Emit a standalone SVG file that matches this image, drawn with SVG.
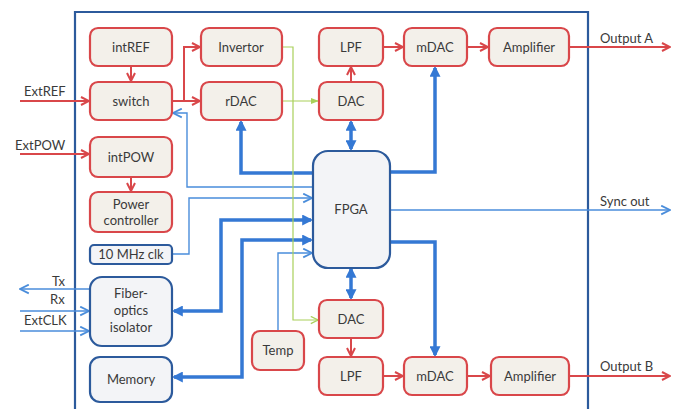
<svg xmlns="http://www.w3.org/2000/svg" width="677" height="409" viewBox="0 0 677 409">
<style>
text{font-family:Lato,"Liberation Sans",sans-serif;font-size:13px;fill:#3a3a3a;}
.c{text-anchor:middle;}
.rn{fill:#f3f0ea;stroke:#d9474a;stroke-width:2.2;}
.bn{fill:#f3f4f7;stroke:#2c5a9c;stroke-width:2.2;}
.red{fill:none;stroke:#d9474a;stroke-width:2;}
.thick{fill:none;stroke:#3478d4;stroke-width:3.5;}
.thin{fill:none;stroke:#4a8ddb;stroke-width:1.4;}
.grn{fill:none;stroke:#a9d05a;stroke-width:1.2;}
</style>
<defs>
<marker id="ar" viewBox="0 0 10 10" refX="9" refY="5" markerWidth="10" markerHeight="10" markerUnits="userSpaceOnUse" orient="auto-start-reverse"><path d="M1,1 L9,5 L1,9" fill="none" stroke="#d9474a" stroke-width="2"/></marker>
<marker id="ab" viewBox="0 0 10 10" refX="9" refY="5" markerWidth="11" markerHeight="11" markerUnits="userSpaceOnUse" orient="auto-start-reverse"><path d="M1,1 L9,5 L1,9" fill="none" stroke="#4a8ddb" stroke-width="1.6"/></marker>
<marker id="at" viewBox="0 0 10 10" refX="8" refY="5" markerWidth="11" markerHeight="11" markerUnits="userSpaceOnUse" orient="auto-start-reverse"><path d="M0,0 L10,5 L0,10 z" fill="#3478d4"/></marker>
<marker id="ag" viewBox="0 0 10 10" refX="9" refY="5" markerWidth="8" markerHeight="8" markerUnits="userSpaceOnUse" orient="auto"><path d="M0,1 L10,5 L0,9 z" fill="#a9d05a"/></marker>
<marker id="ago" viewBox="0 0 10 10" refX="9" refY="5" markerWidth="9" markerHeight="9" markerUnits="userSpaceOnUse" orient="auto"><path d="M1,1 L9,5 L1,9" fill="none" stroke="#a9d05a" stroke-width="1.4"/></marker>
</defs>
<rect width="677" height="409" fill="#ffffff"/>
<path d="M75,420 L75,12 L588,12 L588,420" fill="none" stroke="#2c5a9c" stroke-width="2.2"/>

<g id="connectors">
<!-- red -->
<path class="red" d="M131,66 L131,81" marker-end="url(#ar)"/>
<path class="red" d="M20,101 L89,101" marker-end="url(#ar)"/>
<path class="red" d="M172,101 L200,101" marker-end="url(#ar)"/>
<path class="red" d="M184,101 L184,47 L200,47" marker-end="url(#ar)"/>
<path class="red" d="M20,154 L89,154" marker-end="url(#ar)"/>
<path class="red" d="M131,177 L131,191" marker-end="url(#ar)"/>
<path class="red" d="M351,82 L351,67" marker-end="url(#ar)"/>
<path class="red" d="M383,47 L403,47" marker-end="url(#ar)"/>
<path class="red" d="M467,47 L488,47" marker-end="url(#ar)"/>
<path class="red" d="M569,47 L670,47" marker-end="url(#ar)"/>
<path class="red" d="M351,338 L351,356" marker-end="url(#ar)"/>
<path class="red" d="M383,376 L403,376" marker-end="url(#ar)"/>
<path class="red" d="M467,376 L490,376" marker-end="url(#ar)"/>
<path class="red" d="M569,376 L670,376" marker-end="url(#ar)"/>
<!-- thick blue -->
<path class="thick" d="M351,122 L351,149" marker-start="url(#at)" marker-end="url(#at)"/>
<path class="thick" d="M313,173 L241,173 L241,122" marker-end="url(#at)"/>
<path class="thick" d="M390,172 L435,172 L435,68" marker-end="url(#at)"/>
<path class="thick" d="M390,242 L435,242 L435,355" marker-end="url(#at)"/>
<path class="thick" d="M351,269 L351,298" marker-start="url(#at)" marker-end="url(#at)"/>
<path class="thick" d="M311,220 L221,220 L221,311 L174,311" marker-start="url(#at)" marker-end="url(#at)"/>
<path class="thick" d="M311,240 L242,240 L242,377 L174,377" marker-start="url(#at)" marker-end="url(#at)"/>
<!-- thin blue -->
<path class="thin" d="M313,187 L187,187 L187,113 L173,113" marker-end="url(#ab)"/>
<path class="thin" d="M172,254 L189,254 L189,198 L312,198" marker-end="url(#ab)"/>
<path class="thin" d="M278,331 L278,253 L312,253" marker-end="url(#ab)"/>
<path class="thin" d="M390,210 L670,210" marker-end="url(#ab)"/>
<path class="thin" d="M90,289 L20,289" marker-end="url(#ab)"/>
<path class="thin" d="M20,311 L89,311" marker-end="url(#ab)"/>
<path class="thin" d="M20,331 L89,331" marker-end="url(#ab)"/>
<!-- green -->
<path class="grn" d="M282,47 L293,47 L293,320 L318,320" marker-end="url(#ago)"/>
<path class="grn" d="M282,101 L318,101" marker-end="url(#ag)"/>
</g>

<g id="labels">
<text x="24" y="96">ExtREF</text>
<text x="15" y="150">ExtPOW</text>
<text x="600" y="43">Output A</text>
<text x="600" y="206">Sync out</text>
<text x="600" y="371">Output B</text>
<text x="52" y="286">Tx</text>
<text x="50" y="304">Rx</text>
<text x="24" y="325">ExtCLK</text>
</g>

<g id="intREF"><rect class="rn" x="90" y="28" width="82" height="38" rx="8"/><text class="c" x="131" y="52">intREF</text></g>
<g id="switch"><rect class="rn" x="90" y="82" width="82" height="38" rx="8"/><text class="c" x="131" y="106">switch</text></g>
<g id="Invertor"><rect class="rn" x="201" y="28" width="81" height="38" rx="8"/><text class="c" x="241" y="52">Invertor</text></g>
<g id="rDAC"><rect class="rn" x="201" y="82" width="81" height="38" rx="8"/><text class="c" x="241" y="106">rDAC</text></g>
<g id="LPF_A"><rect class="rn" x="319" y="28" width="64" height="38" rx="8"/><text class="c" x="351" y="52">LPF</text></g>
<g id="mDAC_A"><rect class="rn" x="404" y="28" width="63" height="38" rx="8"/><text class="c" x="435" y="52">mDAC</text></g>
<g id="Amplifier_A"><rect class="rn" x="489" y="28" width="80" height="38" rx="8"/><text class="c" x="529" y="52">Amplifier</text></g>
<g id="DAC_A"><rect class="rn" x="319" y="82" width="64" height="38" rx="8"/><text class="c" x="351" y="106">DAC</text></g>
<g id="intPOW"><rect class="rn" x="90" y="137" width="82" height="40" rx="8"/><text class="c" x="131" y="162">intPOW</text></g>
<g id="PowerController"><rect class="rn" x="90" y="192" width="82" height="40" rx="8"/><text class="c" x="131" y="209">Power</text><text class="c" x="131" y="225">controller</text></g>
<g id="clk10MHz"><rect class="bn" x="90" y="245" width="82" height="19" rx="4"/><text class="c" x="131" y="259">10 MHz clk</text></g>
<g id="FPGA"><rect class="bn" x="313" y="151" width="77" height="117" rx="15"/><text class="c" x="351" y="214">FPGA</text></g>
<g id="FiberIsolator"><rect class="bn" x="90" y="277" width="82" height="69" rx="12"/><text class="c" x="131" y="298">Fiber-</text><text class="c" x="131" y="315">optics</text><text class="c" x="131" y="332">isolator</text></g>
<g id="Memory"><rect class="bn" x="90" y="357" width="82" height="45" rx="10"/><text class="c" x="131" y="384">Memory</text></g>
<g id="Temp"><rect class="rn" x="252" y="331" width="52" height="39" rx="8"/><text class="c" x="278" y="355">Temp</text></g>
<g id="DAC_B"><rect class="rn" x="319" y="300" width="64" height="38" rx="8"/><text class="c" x="351" y="324">DAC</text></g>
<g id="LPF_B"><rect class="rn" x="319" y="357" width="64" height="38" rx="8"/><text class="c" x="351" y="381">LPF</text></g>
<g id="mDAC_B"><rect class="rn" x="404" y="357" width="63" height="38" rx="8"/><text class="c" x="435" y="381">mDAC</text></g>
<g id="Amplifier_B"><rect class="rn" x="491" y="357" width="78" height="38" rx="8"/><text class="c" x="530" y="381">Amplifier</text></g>
</svg>
